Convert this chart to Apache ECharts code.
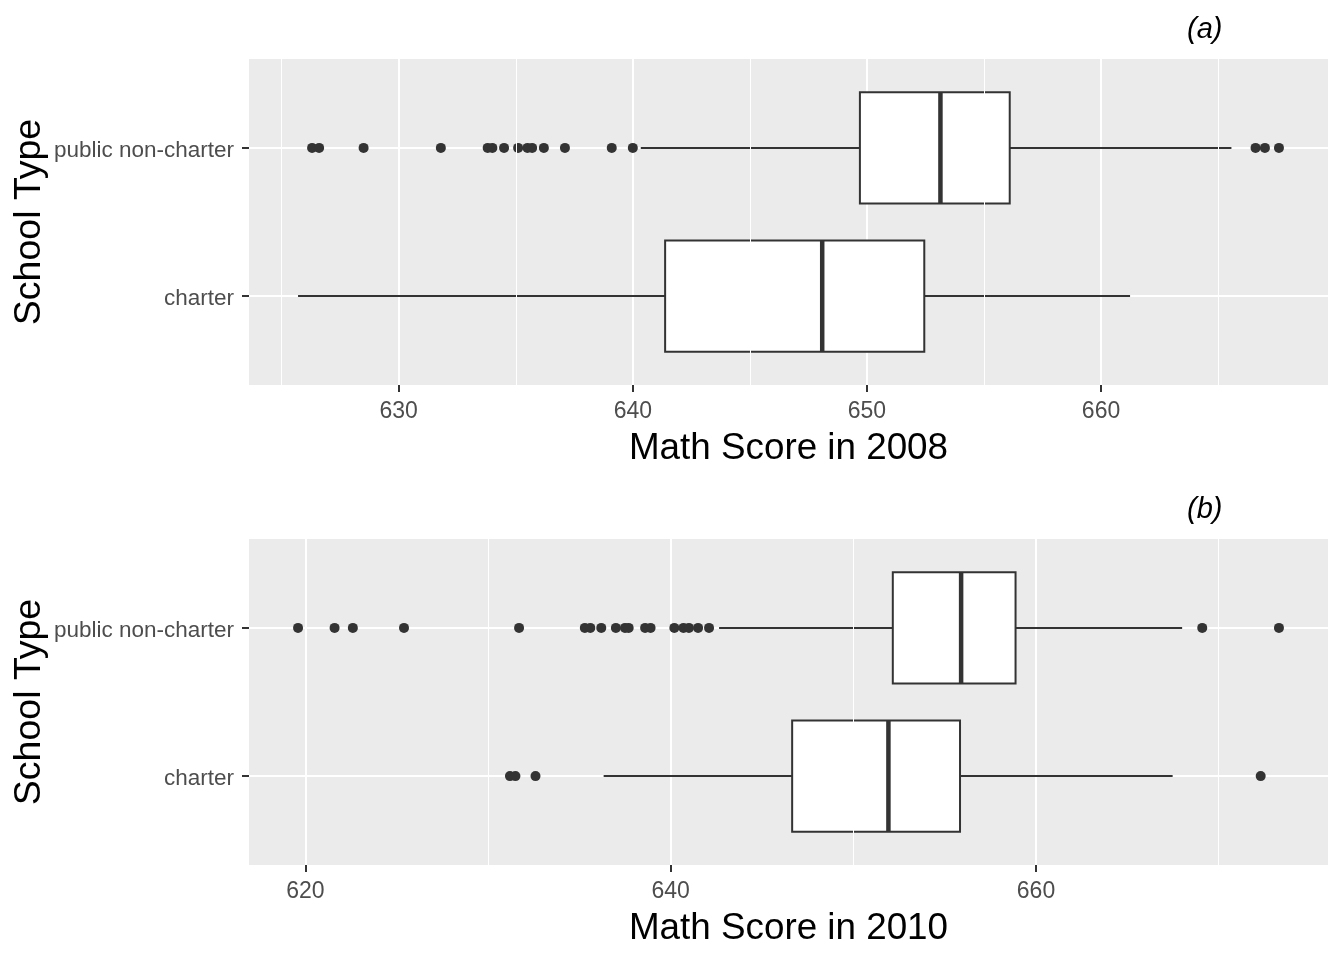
<!DOCTYPE html>
<html>
<head>
<meta charset="utf-8">
<style>
  html, body { margin: 0; padding: 0; background: #fff; }
  #chart { width: 1344px; height: 960px; }
</style>
<script src="https://cdn.jsdelivr.net/npm/echarts@6/dist/echarts.min.js"></script>
</head>
<body>
<div id="chart"></div>
<script>
// ---- data ----
const categories = ['charter', 'public non-charter'];

// five-number summaries: [lower whisker, Q1, median, Q3, upper whisker]
const box2008Charter = [625.70, 641.38, 648.09, 652.45, 661.24];
const box2008Public  = [640.34, 649.70, 653.14, 656.10, 665.57];
const out2008Charter = [];
const out2008Public  = [626.3, 626.6, 628.5, 631.8, 633.8, 634.0, 634.5, 635.1, 635.5, 635.7, 636.2, 637.1, 639.1, 640.0, 666.6, 667.0, 667.6];

const box2010Charter = [636.33, 646.65, 651.92, 655.84, 667.48];
const box2010Public  = [642.65, 652.16, 655.90, 658.88, 668.00];
const out2010Charter = [631.2, 631.5, 632.6, 672.3];
const out2010Public  = [619.6, 621.6, 622.6, 625.4, 631.7, 635.3, 635.6, 636.2, 637.0, 637.5, 637.7, 638.6, 638.9, 640.2, 640.7, 641.0, 641.5, 642.1, 669.1, 673.3];

const xTicks2008 = [630, 640, 650, 660];
const xMinor2008 = [625, 635, 645, 655, 665];
const xTicks2010 = [620, 640, 660];
const xMinor2010 = [630, 650, 670];

const panelTitles = ['(a)', '(b)'];
const xTitles = ['Math Score in 2008', 'Math Score in 2010'];
const yTitle = 'School Type';

// ---- helpers ----
const FONT = '"Liberation Sans", Arial, sans-serif';
const DARK = '#333333';

function range(boxes, outs) {
  const all = [].concat(...boxes, ...outs);
  const lo = Math.min(...all), hi = Math.max(...all);
  const pad = (hi - lo) * 0.05;
  return [lo - pad, hi + pad];
}

function renderBox(params, api) {
  const y = api.value(0);
  const pLo = api.coord([api.value(1), y]);
  const pQ1 = api.coord([api.value(2), y]);
  const pMed = api.coord([api.value(3), y]);
  const pQ3 = api.coord([api.value(4), y]);
  const pHi = api.coord([api.value(5), y]);
  const h = api.size([0, 0.75])[1];
  const cy = pLo[1];
  return {
    type: 'group',
    children: [
      { type: 'line', shape: { x1: pLo[0], y1: cy, x2: pQ1[0], y2: cy }, style: { stroke: DARK, lineWidth: 2 } },
      { type: 'line', shape: { x1: pQ3[0], y1: cy, x2: pHi[0], y2: cy }, style: { stroke: DARK, lineWidth: 2 } },
      { type: 'rect', shape: { x: pQ1[0], y: cy - h / 2, width: pQ3[0] - pQ1[0], height: h }, style: { fill: '#ffffff', stroke: DARK, lineWidth: 2 } },
      { type: 'line', shape: { x1: pMed[0], y1: cy - h / 2, x2: pMed[0], y2: cy + h / 2 }, style: { stroke: DARK, lineWidth: 4.5 } }
    ]
  };
}

const panels = [
  { boxes: [box2008Charter, box2008Public], outs: [out2008Charter, out2008Public], ticks: xTicks2008, minor: xMinor2008, top: 59 },
  { boxes: [box2010Charter, box2010Public], outs: [out2010Charter, out2010Public], ticks: xTicks2010, minor: xMinor2010, top: 539 }
];

const grid = [], xAxis = [], yAxis = [], series = [], title = [];

panels.forEach((p, i) => {
  const [mn, mx] = range(p.boxes, p.outs);
  grid.push({ left: 249, right: 16, top: p.top, height: 326, show: true, backgroundColor: '#EBEBEB', borderWidth: 0,
    containLabel: false, outerBoundsMode: 'none' });
  xAxis.push({
    gridIndex: i, type: 'value', min: mn, max: mx,
    axisLine: { show: false },
    axisTick: { show: true, length: 7, customValues: p.ticks, lineStyle: { color: DARK, width: 2 } },
    axisLabel: { customValues: p.ticks, color: '#4D4D4D', fontSize: 23, margin: 15, fontFamily: FONT },
    splitLine: { show: true, lineStyle: { color: '#ffffff', width: 2 } },
    name: xTitles[i], nameLocation: 'middle', nameGap: 45, nameMoveOverlap: false,
    nameTextStyle: { fontSize: 36.8, color: '#000000', fontFamily: FONT }
  });
  yAxis.push({
    gridIndex: i, type: 'value', min: 0.4, max: 2.6,
    axisLine: { show: false },
    axisTick: { show: true, length: 7, customValues: [1, 2], lineStyle: { color: DARK, width: 2 } },
    axisLabel: { customValues: [1, 2], color: '#4D4D4D', fontSize: 22.5, margin: 15, fontFamily: FONT,
      verticalAlign: 'top', lineHeight: 6,
      formatter: v => categories[Math.round(v) - 1] },
    splitLine: { show: true, lineStyle: { color: '#ffffff', width: 2 } },
    name: yTitle, nameLocation: 'middle', nameGap: 200, nameMoveOverlap: false,
    nameTextStyle: { fontSize: 37.5, color: '#000000', fontFamily: FONT }
  });
  // minor gridlines
  series.push({
    type: 'line', xAxisIndex: i, yAxisIndex: i, data: [], z: 0, silent: true,
    markLine: {
      silent: true, symbol: ['none', 'none'], label: { show: false },
      lineStyle: { color: '#ffffff', width: 1, type: 'solid' },
      emphasis: { disabled: true },
      data: p.minor.map(v => ({ xAxis: v }))
    }
  });
  series.push({
    type: 'custom', xAxisIndex: i, yAxisIndex: i, z: 3, silent: true,
    renderItem: renderBox,
    encode: { x: [1, 2, 3, 4, 5], y: 0 },
    data: p.boxes.map((b, k) => [k + 1].concat(b))
  });
  series.push({
    type: 'scatter', xAxisIndex: i, yAxisIndex: i, z: 4, silent: true,
    symbolSize: 10, itemStyle: { color: DARK, opacity: 1 },
    data: [].concat(...p.outs.map((arr, k) => arr.map(v => [v, k + 1])))
  });
  title.push({
    text: panelTitles[i], left: 1187, top: p.top - 44, padding: 0,
    textStyle: { fontStyle: 'italic', fontWeight: 'normal', fontSize: 29, color: '#000000', fontFamily: FONT }
  });
});

const chart = echarts.init(document.getElementById('chart'), null, { renderer: 'canvas' });
chart.setOption({
  animation: false,
  textStyle: { fontFamily: FONT },
  title, grid, xAxis, yAxis, series
});
</script>
</body>
</html>
